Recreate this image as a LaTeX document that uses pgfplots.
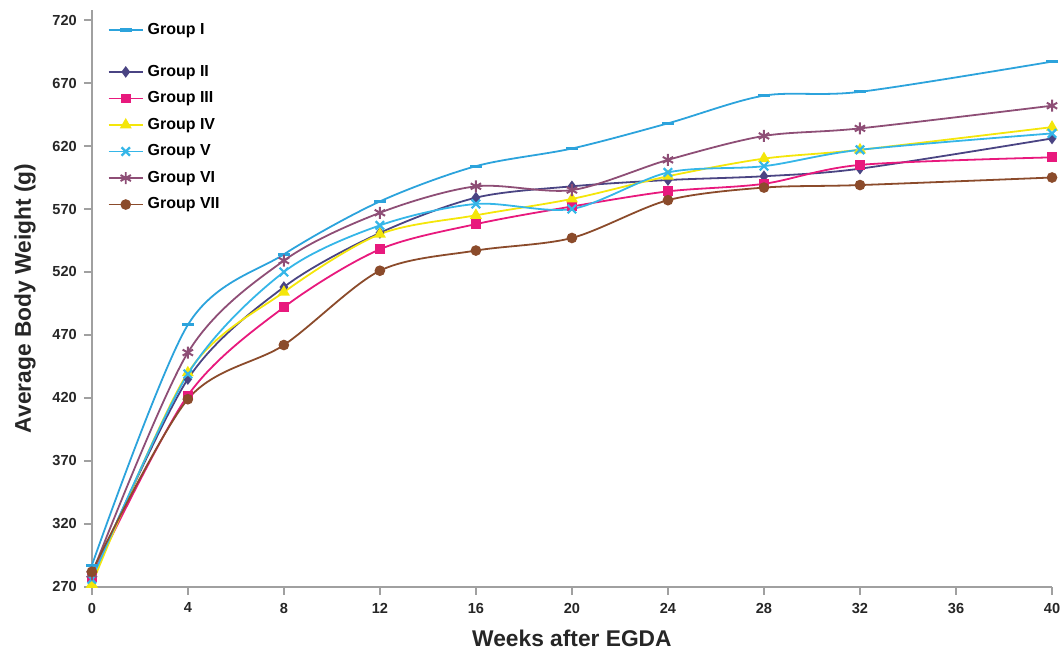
\documentclass[border=0pt]{standalone}
\usepackage{fontspec}
\setmainfont{Liberation Sans}
\usepackage{pgfplots}
\pgfplotsset{compat=1.18}
\definecolor{gI}{HTML}{2CA3DC}
\definecolor{gII}{HTML}{4A4483}
\definecolor{gIII}{HTML}{E8197D}
\definecolor{gIV}{HTML}{F4E60A}
\definecolor{gV}{HTML}{35B6E8}
\definecolor{gVI}{HTML}{8E4E76}
\definecolor{gVII}{HTML}{8B4B2B}
\definecolor{axisgray}{HTML}{A0A0A0}

\begin{document}
\begin{tikzpicture}
\begin{axis}[
  scale only axis,
  width=481pt, height=289pt,
  xmin=0, xmax=40, ymin=270, ymax=728,
  xtick={0,4,...,40}, ytick={270,320,...,720},
  axis lines*=left,
  axis line style={draw=axisgray, line width=0.7pt},
  tick style={draw=axisgray, line width=0.7pt},
  tick align=outside, major tick length=4pt,
  /pgf/number format/assume math mode=true,
  tick label style={font=\fontsize{7.3}{9}\selectfont\bfseries, text=black!85},
  xticklabel style={yshift=-0.5pt},
  xlabel={Weeks after EGDA},
  ylabel={Average Body Weight (g)},
  label style={font=\fontsize{11.4}{13}\selectfont\bfseries, text=black!85},
  xlabel style={yshift=-1.5pt, text depth=0pt},
  ylabel style={yshift=1.5pt},
  clip=false,
  legend style={at={(rel axis cs:0.010,0.992)}, anchor=north west, draw=none, fill=none,
    font=\fontsize{8}{10}\selectfont\bfseries, row sep=2.2pt,
    cells={anchor=west}},
  every axis plot/.append style={smooth, line width=0.9pt, mark size=2.2pt},
]
\addplot[color=gI, mark=-, mark size=3pt, mark options={line width=1.6pt}] coordinates
  {(0,287) (4,478) (8,534) (12,576) (16,604) (20,618) (24,638) (28,660) (32,663) (40,687)};
\addlegendentry{Group I}
\addlegendimage{empty legend}
\addlegendentry{}
\addplot[color=gII, mark=diamond*] coordinates
  {(0,277) (4,435) (8,508) (12,551) (16,579) (20,588) (24,593) (28,596) (32,602) (40,626)};
\addlegendentry{Group II}
\addplot[color=gIII, mark=square*, mark size=2pt] coordinates
  {(0,278) (4,422) (8,492) (12,538) (16,558) (20,572) (24,584) (28,590) (32,605) (40,611)};
\addlegendentry{Group III}
\addplot[color=gIV, mark=triangle*, mark size=2.6pt] coordinates
  {(0,272) (4,440) (8,504) (12,550) (16,565) (20,578) (24,596) (28,610) (32,617) (40,635)};
\addlegendentry{Group IV}
\addplot[color=gV, mark=x, mark size=3pt, mark options={line width=1.1pt}] coordinates
  {(0,276) (4,439) (8,520) (12,557) (16,574) (20,570) (24,599) (28,604) (32,617) (40,630)};
\addlegendentry{Group V}
\addplot[color=gVI, mark=asterisk, mark size=3pt, mark options={line width=1pt}] coordinates
  {(0,280) (4,456) (8,529) (12,567) (16,588) (20,585) (24,609) (28,628) (32,634) (40,652)};
\addlegendentry{Group VI}
\addplot[color=gVII, mark=*, mark size=2.2pt] coordinates
  {(0,282) (4,419) (8,462) (12,521) (16,537) (20,547) (24,577) (28,587) (32,589) (40,595)};
\addlegendentry{Group VII}
\end{axis}
\pgfresetboundingbox
\path ([xshift=-46pt, yshift=5pt]current axis.north west)
      ([xshift=6pt, yshift=-34pt]current axis.south east);
\end{tikzpicture}
\end{document}
